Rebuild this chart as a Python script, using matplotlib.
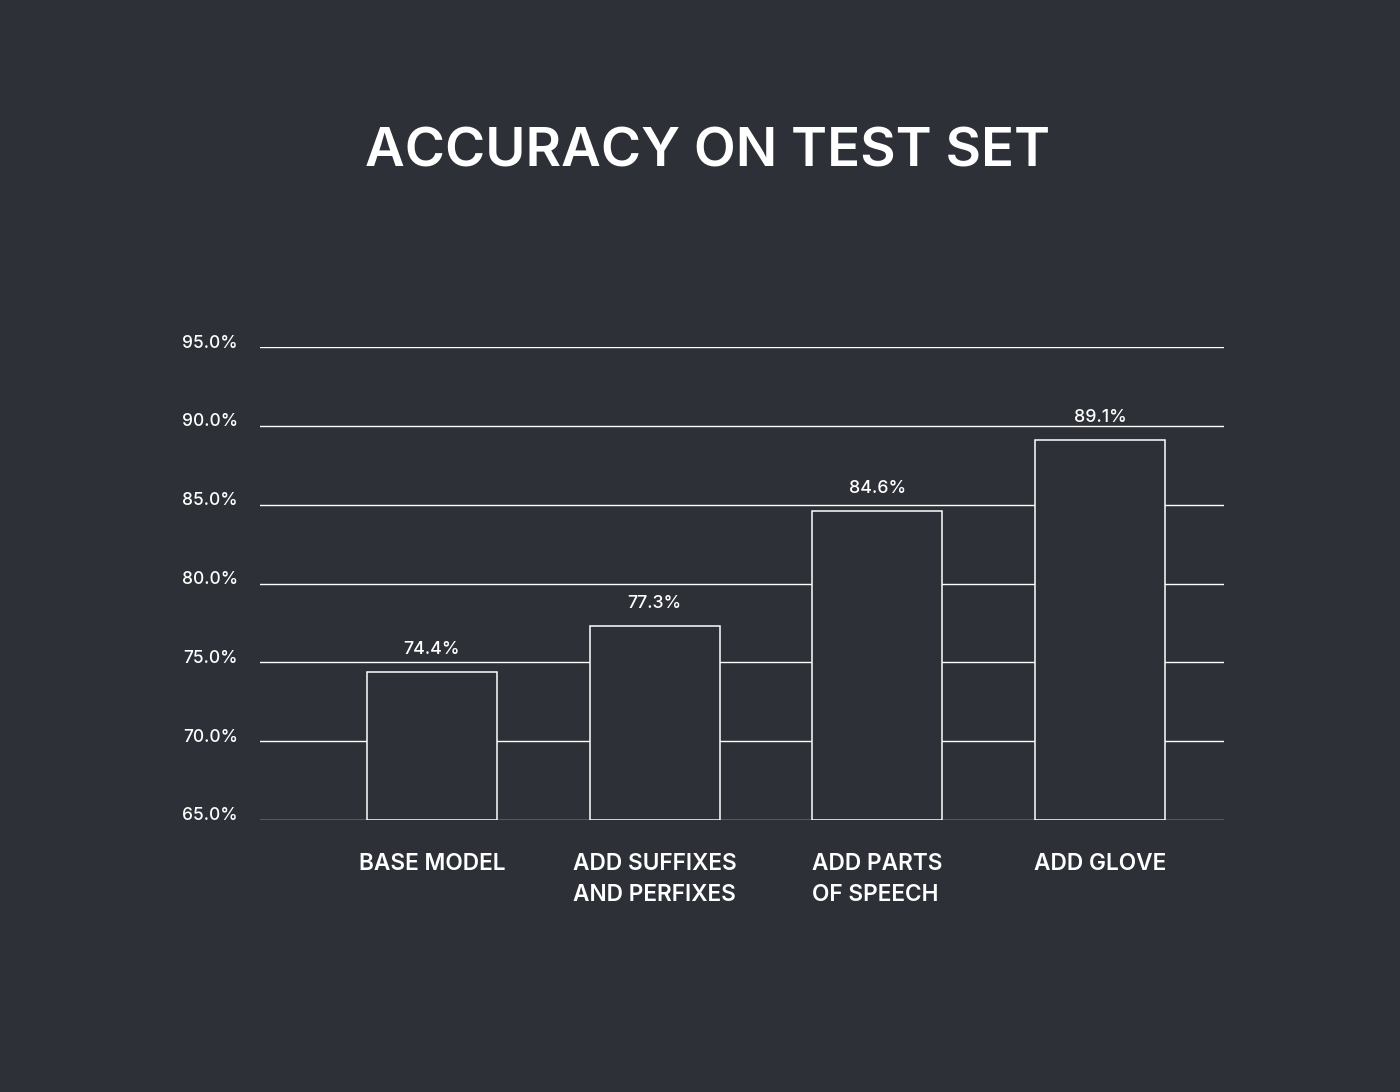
import matplotlib
matplotlib.use('Agg')
import matplotlib.pyplot as plt
import matplotlib.transforms as mtransforms
from matplotlib.ticker import FuncFormatter

categories = ['BASE MODEL', 'ADD SUFFIXES\nAND PERFIXES', 'ADD PARTS\nOF SPEECH', 'ADD GLOVE']
accuracy = [74.4, 77.3, 84.6, 89.1]
yticks = [65, 70, 75, 80, 85, 90, 95]

bg = '#2e3038'
plt.rcParams['font.family'] = ['Inter', 'DejaVu Sans']

fig = plt.figure(figsize=(14, 10.92), dpi=100, facecolor=bg)
ax = fig.add_axes([260 / 1400, 1 - 820 / 1092, 964 / 1400, 473 / 1092])
ax.set_facecolor(bg)

x = range(len(categories))
ax.bar(x, [a - 65 for a in accuracy], bottom=65, width=0.584,
       facecolor=bg, edgecolor='white', linewidth=1.1, zorder=3)

for i, a in enumerate(accuracy):
  ax.text(i, a + 0.9, '%.1f%%' % a, ha='center', va='bottom',
          color='white', fontsize=12.8, fontweight='medium')

for i, c in enumerate(categories):
  ax.text(i, -0.07, c, transform=ax.get_xaxis_transform(), ha='center',
          va='top', multialignment='left', color='white', fontsize=16.3,
          fontweight='semibold', linespacing=1.5)

ax.set_ylim(65, 95)
ax.set_xlim(-0.772, 3.557)
ax.set_yticks(yticks)
ax.yaxis.set_major_formatter(FuncFormatter(lambda v, p: '%.1f%%' % v))
ax.set_xticks([])
ax.tick_params(axis='y', length=0, pad=16, labelcolor='white', labelsize=12.5)
offset = mtransforms.ScaledTranslation(0, 6 / 100, fig.dpi_scale_trans)
for lbl in ax.get_yticklabels():
  lbl.set_fontweight('medium')
  lbl.set_transform(lbl.get_transform() + offset)
ax.grid(axis='y', color='white', linewidth=1, zorder=0)
ax.set_axisbelow(True)
for s in ax.spines.values():
  s.set_visible(False)

fig.text(708 / 1400, 1 - 153 / 1092, 'ACCURACY ON TEST SET', ha='center', va='center',
         color='white', fontsize=39.3, fontweight='semibold')

fig.savefig('out.png', dpi=100, facecolor=bg)
